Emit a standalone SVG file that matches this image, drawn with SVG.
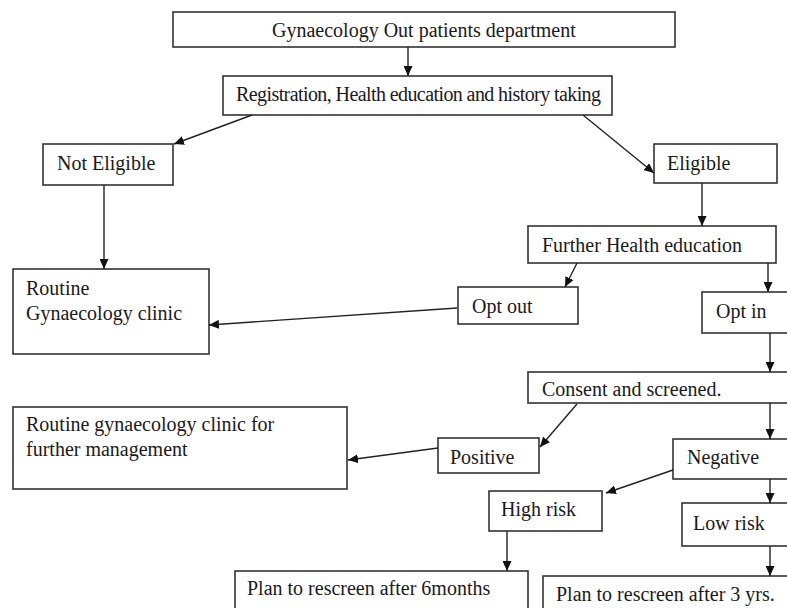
<svg xmlns="http://www.w3.org/2000/svg" width="787" height="608" viewBox="0 0 787 608">
<defs>
<style>
.box{fill:#fff;stroke:#333;stroke-width:1.6}
.t{font-family:"Liberation Serif","Times New Roman",serif;font-size:20px;fill:#1a1a1a}
.c{stroke:#222;stroke-width:1.4;fill:none;marker-end:url(#ah)}
</style>
<marker id="ah" markerUnits="userSpaceOnUse" markerWidth="10" markerHeight="9" refX="10" refY="4.5" orient="auto">
<path d="M0,0 L10,4.5 L0,9 z" fill="#111"/>
</marker>
</defs>
<rect width="787" height="608" fill="#fff"/>
<g id="n-opd"><rect class="box" x="173" y="12" width="502" height="35"/><text class="t" x="272" y="37">Gynaecology  Out patients department</text></g>
<g id="n-reg"><rect class="box" x="223" y="76" width="389" height="39"/><text class="t" x="236" y="101" textLength="365" lengthAdjust="spacing">Registration, Health education and history taking</text></g>
<g id="n-noteligible"><rect class="box" x="43" y="144" width="130" height="41"/><text class="t" x="57" y="170">Not Eligible</text></g>
<g id="n-eligible"><rect class="box" x="654" y="144" width="123" height="39"/><text class="t" x="667" y="170">Eligible</text></g>
<g id="n-routine"><rect class="box" x="13" y="269" width="196" height="85"/><text class="t" x="26" y="295">Routine</text><text class="t" x="26" y="320">Gynaecology  clinic</text></g>
<g id="n-further"><rect class="box" x="528" y="226" width="248" height="37"/><text class="t" x="542" y="252">Further Health education</text></g>
<g id="n-optout"><rect class="box" x="458" y="287" width="120" height="37"/><text class="t" x="472" y="313">Opt out</text></g>
<g id="n-optin"><rect class="box" x="702" y="292" width="100" height="41"/><text class="t" x="716" y="318">Opt in</text></g>
<g id="n-consent"><rect class="box" x="528" y="372" width="280" height="31"/><text class="t" x="542" y="396">Consent and screened.</text></g>
<g id="n-routine2"><rect class="box" x="13" y="407" width="334" height="82"/><text class="t" x="26" y="431">Routine gynaecology  clinic for</text><text class="t" x="26" y="456">further management</text></g>
<g id="n-positive"><rect class="box" x="438" y="438" width="101" height="35"/><text class="t" x="450" y="464">Positive</text></g>
<g id="n-negative"><rect class="box" x="673" y="439" width="130" height="40"/><text class="t" x="687" y="464">Negative</text></g>
<g id="n-highrisk"><rect class="box" x="489" y="491" width="113" height="40"/><text class="t" x="501" y="516">High risk</text></g>
<g id="n-lowrisk"><rect class="box" x="682" y="503" width="120" height="43"/><text class="t" x="693" y="530">Low risk</text></g>
<g id="n-plan6"><rect class="box" x="235" y="571" width="293" height="50"/><text class="t" x="247" y="595">Plan to rescreen after 6months</text></g>
<g id="n-plan3"><rect class="box" x="543" y="576" width="260" height="45"/><text class="t" x="556" y="601">Plan to rescreen after 3 yrs.</text></g>
<g id="connectors">
<line class="c" x1="408" y1="47" x2="408" y2="76"/>
<line class="c" x1="252" y1="115" x2="174" y2="144"/>
<line class="c" x1="583" y1="115" x2="654" y2="173"/>
<line class="c" x1="104" y1="185" x2="104" y2="269"/>
<line class="c" x1="702" y1="183" x2="702" y2="226"/>
<line class="c" x1="577" y1="263" x2="565" y2="287"/>
<line class="c" x1="457" y1="308" x2="209" y2="325"/>
<line class="c" x1="768" y1="263" x2="768" y2="292"/>
<line class="c" x1="770" y1="333" x2="770" y2="372"/>
<line class="c" x1="577" y1="404" x2="540" y2="447"/>
<line class="c" x1="770" y1="403" x2="770" y2="439"/>
<line class="c" x1="438" y1="448" x2="348" y2="460"/>
<line class="c" x1="673" y1="470" x2="606" y2="493"/>
<line class="c" x1="770" y1="479" x2="770" y2="503"/>
<line class="c" x1="770" y1="546" x2="770" y2="576"/>
<line class="c" x1="507" y1="531" x2="507" y2="571"/>
</g>
</svg>
